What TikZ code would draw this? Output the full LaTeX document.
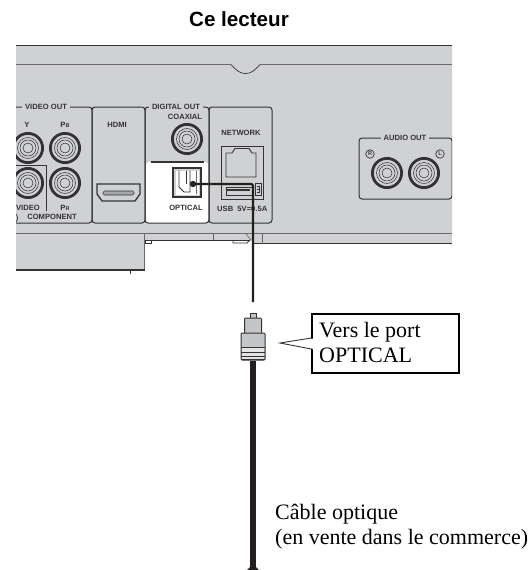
\documentclass[tikz,border=0pt]{standalone}
\usepackage{fontspec}
\setmainfont{Liberation Serif}
\setsansfont{Liberation Sans}
\definecolor{panelgray}{HTML}{D0D1D3}
\definecolor{inkdark}{HTML}{333335}
\definecolor{edgegray}{HTML}{6A6A6C}
\definecolor{plugmid}{HTML}{C4C5C7}
\definecolor{cableblack}{HTML}{231F20}
\tikzset{
  lab/.style={font=\sffamily\bfseries\fontsize{7.6}{9}\selectfont,text=inkdark,inner sep=0pt},
  labgap/.style={lab,fill=panelgray,inner xsep=3pt,inner ysep=1pt},
  panelbox/.style={draw=inkdark,line width=1pt,rounded corners=3pt},
  serif/.style={font=\rmfamily\fontsize{22}{25}\selectfont,text=black,inner sep=0pt,anchor=base west},
  cablethin/.style={draw=cableblack,line width=2.2pt},
  portline/.style={draw=inkdark,line width=1pt},
  thinring/.style={draw=inkdark,line width=.55pt}
}
\newcommand\jackat[2]{%
  \fill[panelgray] (#1,#2) circle (15pt);
  \draw[inkdark,line width=2.8pt] (#1,#2) circle (14.6pt);
  \draw[thinring] (#1,#2) circle (10.5pt);
  \draw[thinring] (#1,#2) circle (8pt);
  \draw[thinring] (#1,#2) circle (5pt);
}
\begin{document}
\begin{tikzpicture}[x=1pt,y=-1pt]
\useasboundingbox (0,0) rectangle (531,570);
% body of the player
\fill[panelgray] (16,45) -- (452,45) -- (452,243) -- (253,243) -- (250,240) -- (145,240) -- (145,270) -- (16,270) -- cycle;
\begin{scope}
\clip (16,40) rectangle (452,280);
% surface white behind OPTICAL
\draw[inkdark,line width=1pt] (16,45) -- (452,45);
\draw[edgegray,line width=1.4pt] (16,64.5) -- (231,64.5);
\draw[edgegray,line width=1.4pt] (260,64.5) -- (452,64.5);
\draw[inkdark,line width=.7pt] (231,64.5) .. controls (237,71) and (240,73.5) .. (245.5,73.5) .. controls (251,73.5) and (254,71) .. (260,64.5);
% panels
\fill[white,rounded corners=3pt] (146,162) -- (208,162) -- (208,223) -- (146,223) -- cycle;
\draw[panelbox] (-10,107) rectangle (92,223);
\draw[panelbox] (92,107) rectangle (145,223);
\draw[panelbox] (145,107) rectangle (209,223);
\draw[panelbox] (209,107) rectangle (272,223);
\draw[panelbox] (359,138) rectangle (452,199);
\draw[inkdark,line width=1.2pt] (151,162) -- (204,162);
% video jacks
\jackat{28}{148}
\jackat{65}{148}
\jackat{28}{183}
\jackat{65}{183}
\draw[inkdark,line width=.8pt] (16,165) -- (46,165) -- (46,211);
\draw[inkdark,line width=.7pt] (11.5,218) circle (6pt);
% lower edge
\draw[edgegray,line width=1pt] (16,233.5) -- (452,233.5);
\draw[inkdark,line width=.9pt] (145,240) -- (250,240);
\draw[inkdark,line width=1pt] (253,243.5) -- (452,243.5);
\draw[edgegray,line width=.8pt] (213,233.5) -- (213,240);
\draw[edgegray,line width=.8pt] (262,233.5) -- (262,243.5);
\draw[edgegray,line width=.7pt] (246,234) -- (251,240);
\draw[inkdark,line width=.9pt] (145,241) -- (145,243) -- (151,243) -- (151,240);
\draw[inkdark,line width=.9pt] (233,240) -- (233,243) -- (247,243) -- (250,240);
\draw[edgegray,line width=1pt] (144.5,233.5) -- (144.5,270);
\draw[inkdark,line width=1.1pt] (16,270) -- (145,270);
\draw[inkdark,line width=.8pt] (130,270) -- (130,274);
\end{scope}
% labels of the panels
\node[labgap] (videoout) at (46,107) {VIDEO OUT};
\node[lab] (ylabel) at (27,125) {Y};
\node[lab] (pblabel) at (65,125) {P\fontsize{5.5}{6}\selectfont B};
\node[lab] (prlabel) at (65,208) {P\fontsize{5.5}{6}\selectfont R};
\begin{scope}
\clip (16,200) rectangle (100,225);
\node[lab] (videolabel) at (28,208) {VIDEO};
\end{scope}
\node[lab] (component) at (52,217) {COMPONENT};
\node[lab] (hdmi) at (117,125) {HDMI};
\node[labgap] (digitalout) at (176,107) {DIGITAL OUT};
\node[lab] (coaxial) at (185,117) {COAXIAL};
\node[lab] (optical) at (186,208) {OPTICAL};
\node[lab] (network) at (241,133) {NETWORK};
\node[lab,anchor=base west] (usb) at (217,211) {USB\ \ 5V=0.5A};
\node[labgap] (audioout) at (405,138) {AUDIO OUT};
\node[circle,draw=inkdark,line width=.7pt,minimum size=8.5pt,inner sep=0pt,
  font=\sffamily\bfseries\fontsize{5.5}{6}\selectfont,text=inkdark] (rmark) at (370,154) {R};
\node[circle,draw=inkdark,line width=.7pt,minimum size=8.5pt,inner sep=0pt,
  font=\sffamily\bfseries\fontsize{5.5}{6}\selectfont,text=inkdark] (lmark) at (440,154) {L};
% other jacks
\jackat{187}{139}
\jackat{387}{173}
\jackat{424}{173}
% HDMI socket
\draw[portline,line width=1.3pt] (97,184) -- (140,184) -- (140,194) -- (135,201) -- (102,201) -- (97,194) -- cycle;
\draw[inkdark,line width=.7pt,fill=panelgray!80!black,rounded corners=1.5pt] (103,191) rectangle (134,195);
% optical socket
\draw[portline,line width=1.3pt,fill=panelgray] (173,168) rectangle (201,197);
\fill[white] (175.5,170.5) rectangle (198.5,194.5);
\draw[portline,line width=.8pt] (179,170.5) -- (179,187) -- (184,192) -- (190,192) -- (190,170.5);
\draw[portline,line width=.6pt] (186,170.5) -- (186,184);
\draw[edgegray,line width=1pt] (196,171) -- (196,194);
% network socket
\draw[portline] (221,146) rectangle (263,199);
\draw[portline,line width=.9pt] (226,177) -- (226,153) -- (232,153) -- (235,148.5) -- (249,148.5) -- (252,153) -- (256,153) -- (256,177) -- cycle;
\draw[portline,line width=.8pt] (226,195) -- (226,187) -- (253,187) -- (253,195) -- cycle;
\draw[inkdark,line width=1.2pt] (227,190) -- (250,190);
\draw[portline,line width=.7pt] (255,183) rectangle (261,195);
\draw[inkdark,line width=.6pt] (257,186) -- (259,186) -- (259,192) -- (257,192) (257,189) -- (259,189);
% connector end points
\coordinate (sockdot) at (193,184);
\coordinate (cablebend) at (253,184);
\coordinate (cableend) at (253,302);
\coordinate (plugtail) at (253,361);
\coordinate (cablebottom) at (253,567);
% optical cable to socket
\draw[cablethin,rounded corners=2pt] (sockdot) -- (cablebend) -- (cableend);
\fill[cableblack] (sockdot) circle (3.2pt);
% plug
\draw[inkdark,line width=.8pt,fill=plugmid] (250,318) -- (250,313.5) -- (256,313.5) -- (256,318);
\draw[inkdark,line width=1pt,fill=plugmid,rounded corners=1pt] (244.5,333) -- (244.5,318) -- (261.5,318) -- (261.5,333);
\draw[inkdark,line width=1pt,fill=plugmid,rounded corners=1pt] (241,333) rectangle (265,360);
\fill[panelgray!60!white] (242,347) rectangle (264,359);
\foreach \yy in {347.5,352,356} \draw[inkdark,line width=.6pt] (241,\yy) -- (265,\yy);
\draw[inkdark,line width=1pt] (241,359.5) -- (265,359.5);
% thick cable
\draw[cableblack,line width=5.2pt] (plugtail) -- (cablebottom);
\fill[cableblack] (253,564) -- (259,570) -- (247,570) -- cycle;
% callout
\node[draw=black,line width=1.4pt,fill=white,minimum width=147pt,minimum height=59pt,inner sep=0pt] (calloutbox) at (385.5,343.5) {};
\node[serif] (calltexta) at (319,337) {Vers le port};
\node[serif] (calltextb) at (319,362) {OPTICAL};
\coordinate (callouttip) at (280,343);
\fill[white] (callouttip) -- (313.5,338.5) -- (313.5,349) -- cycle;
\draw[inkdark,line width=.9pt] (calloutbox.west |- 0,338) -- (callouttip) -- (calloutbox.west |- 0,349);
% captions
\node[serif] (cablea) at (275,519) {Câble optique};
\node[serif] (cableb) at (275,544) {(en vente dans le commerce)};
\node[font=\sffamily\bfseries\fontsize{20.6}{24}\selectfont,inner sep=0pt,anchor=base] (title) at (239,26) {Ce lecteur};
\end{tikzpicture}
\end{document}
